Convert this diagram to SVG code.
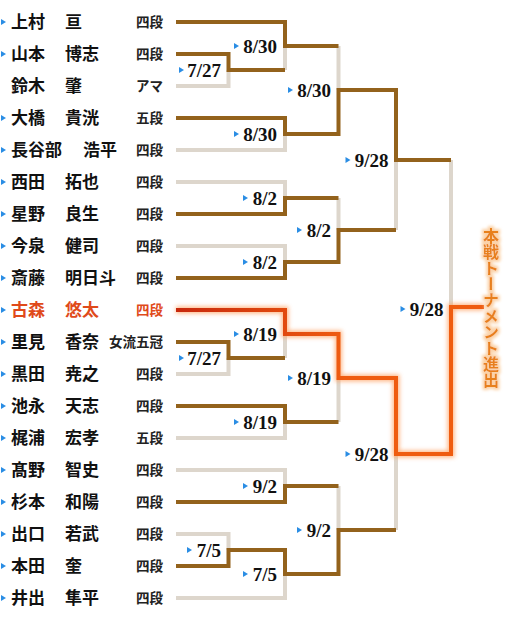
<svg xmlns="http://www.w3.org/2000/svg" width="516" height="618" viewBox="0 0 516 618">
<defs>
<style>
.g{fill:none;stroke:#ddd6cc;stroke-width:4;stroke-linejoin:miter;stroke-linecap:butt}
.b{fill:none;stroke:#93621c;stroke-width:4;stroke-linejoin:miter;stroke-linecap:butt}
.r{fill:none;stroke:url(#rg);stroke-width:4;stroke-linejoin:miter;stroke-linecap:butt}
.rglow{fill:none;stroke:#ffa060;stroke-width:7;stroke-linejoin:miter;opacity:0.75}
.nm{font-family:"Noto Sans CJK JP","Noto Sans CJK SC",sans-serif;font-size:17px;font-weight:700;fill:#111}
.rk{font-family:"Noto Sans CJK JP","Noto Sans CJK SC",sans-serif;font-size:13.5px;font-weight:700;fill:#222;text-anchor:end}
.win .nm,.win .rk{fill:#e04a1a}
.dt{font-family:"Liberation Serif",serif;font-size:19px;font-weight:700;fill:#111;text-anchor:end}
.tri{fill:#2a8de4}
.adv{font-family:"Noto Sans CJK JP","Noto Sans CJK SC",sans-serif;font-size:16px;font-weight:700;fill:#e8801c;writing-mode:vertical-rl;text-anchor:middle}
</style>
<linearGradient id="rg" gradientUnits="userSpaceOnUse" x1="176" y1="0" x2="345" y2="0">
<stop offset="0" stop-color="#c8280c"/>
<stop offset="1" stop-color="#ef5c10"/>
</linearGradient>
<filter id="blur" x="-20%" y="-20%" width="140%" height="140%">
<feGaussianBlur stdDeviation="2"/>
</filter>
<filter id="halo" x="-50%" y="-10%" width="200%" height="120%">
<feMorphology in="SourceAlpha" operator="dilate" radius="1.5" result="d"/>
<feGaussianBlur in="d" stdDeviation="1.5" result="bl"/>
<feFlood flood-color="#fbd2a8"/>
<feComposite in2="bl" operator="in" result="h"/>
<feMerge><feMergeNode in="h"/><feMergeNode in="SourceGraphic"/></feMerge>
</filter>
<path id="t" d="M0,-3 L5,0 L0,3 Z"/>
</defs>
<rect width="516" height="618" fill="#fff"/>

<g id="connectors">
<!-- gray losers -->
<path class="g" d="M176,86 H228.5 V70"/>
<path class="g" d="M176,150 H285 V134"/>
<path class="g" d="M176,182 H285 V198"/>
<path class="g" d="M176,246 H285 V262"/>
<path class="g" d="M176,374 H228.5 V358"/>
<path class="g" d="M176,438 H285 V422"/>
<path class="g" d="M176,470 H285 V486"/>
<path class="g" d="M176,534 H228.5 V550"/>
<path class="g" d="M176,598 H285 V574"/>
<path class="g" d="M285,70 V46"/>
<path class="g" d="M338.5,46 V90"/>
<path class="g" d="M338.5,198 V230"/>
<path class="g" d="M396,230 V160"/>
<path class="g" d="M285,358 V334"/>
<path class="g" d="M338.5,422 V378"/>
<path class="g" d="M338.5,486 V530"/>
<path class="g" d="M396,530 V454"/>
<path class="g" d="M451,160 V307"/>
<!-- brown winners -->
<path class="b" d="M176,54 H228.5 V70 H285"/>
<path class="b" d="M176,22 H285 V46 H338.5"/>
<path class="b" d="M176,118 H285 V134 H338.5 V90 H396 V160 H451"/>
<path class="b" d="M176,214 H285 V198 H338.5"/>
<path class="b" d="M176,278 H285 V262 H338.5 V230 H396"/>
<path class="b" d="M176,342 H228.5 V358 H285"/>
<path class="b" d="M176,406 H285 V422 H338.5"/>
<path class="b" d="M176,502 H285 V486 H338.5"/>
<path class="b" d="M176,566 H228.5 V550 H285 V574 H338.5 V530 H396"/>
<!-- red advancing path -->
<path class="rglow" filter="url(#blur)" d="M176,310 H285 V334 H338.5 V378 H396 V454 H451 V307 H484"/>
<path class="r" d="M176,310 H285 V334 H338.5 V378 H396 V454 H451 V307 H484"/>
</g>

<g id="dates">
<use href="#t" class="tri" x="179" y="70"/><text class="dt" x="221" y="77">7/27</text>
<use href="#t" class="tri" x="234" y="46"/><text class="dt" x="277" y="53">8/30</text>
<use href="#t" class="tri" x="234" y="134"/><text class="dt" x="277" y="141">8/30</text>
<use href="#t" class="tri" x="288" y="90"/><text class="dt" x="331" y="97">8/30</text>
<use href="#t" class="tri" x="243" y="198"/><text class="dt" x="277" y="205">8/2</text>
<use href="#t" class="tri" x="243" y="262"/><text class="dt" x="277" y="269">8/2</text>
<use href="#t" class="tri" x="297" y="230"/><text class="dt" x="331" y="237">8/2</text>
<use href="#t" class="tri" x="345.5" y="160"/><text class="dt" x="388.5" y="167">9/28</text>
<use href="#t" class="tri" x="179" y="358"/><text class="dt" x="221" y="365">7/27</text>
<use href="#t" class="tri" x="234" y="334"/><text class="dt" x="277" y="341">8/19</text>
<use href="#t" class="tri" x="234" y="422"/><text class="dt" x="277" y="429">8/19</text>
<use href="#t" class="tri" x="288" y="378"/><text class="dt" x="331" y="385">8/19</text>
<use href="#t" class="tri" x="243" y="486"/><text class="dt" x="277" y="493">9/2</text>
<use href="#t" class="tri" x="187" y="550"/><text class="dt" x="221" y="557">7/5</text>
<use href="#t" class="tri" x="243" y="574"/><text class="dt" x="277" y="581">7/5</text>
<use href="#t" class="tri" x="297" y="530"/><text class="dt" x="331" y="537">9/2</text>
<use href="#t" class="tri" x="345.5" y="454"/><text class="dt" x="388.5" y="461">9/28</text>
<use href="#t" class="tri" x="400.5" y="309"/><text class="dt" x="443.5" y="316">9/28</text>
</g>

<g id="p0"><use href="#t" class="tri" x="1" y="22"/><text class="nm" x="11" y="28">上村</text><text class="nm" x="65" y="28">亘</text><text class="rk" x="163" y="27">四段</text></g>
<g id="p1"><use href="#t" class="tri" x="1" y="54"/><text class="nm" x="11" y="60">山本</text><text class="nm" x="65" y="60">博志</text><text class="rk" x="163" y="59">四段</text></g>
<g id="p2"><text class="nm" x="11" y="92">鈴木</text><text class="nm" x="65" y="92">肇</text><text class="rk" x="163" y="91">アマ</text></g>
<g id="p3"><use href="#t" class="tri" x="1" y="118"/><text class="nm" x="11" y="124">大橋</text><text class="nm" x="65" y="124">貴洸</text><text class="rk" x="163" y="123">五段</text></g>
<g id="p4"><use href="#t" class="tri" x="1" y="150"/><text class="nm" x="11" y="156">長谷部</text><text class="nm" x="83" y="156">浩平</text><text class="rk" x="163" y="155">四段</text></g>
<g id="p5"><use href="#t" class="tri" x="1" y="182"/><text class="nm" x="11" y="188">西田</text><text class="nm" x="65" y="188">拓也</text><text class="rk" x="163" y="187">四段</text></g>
<g id="p6"><use href="#t" class="tri" x="1" y="214"/><text class="nm" x="11" y="220">星野</text><text class="nm" x="65" y="220">良生</text><text class="rk" x="163" y="219">四段</text></g>
<g id="p7"><use href="#t" class="tri" x="1" y="246"/><text class="nm" x="11" y="252">今泉</text><text class="nm" x="65" y="252">健司</text><text class="rk" x="163" y="251">四段</text></g>
<g id="p8"><use href="#t" class="tri" x="1" y="278"/><text class="nm" x="11" y="284">斎藤</text><text class="nm" x="65" y="284">明日斗</text><text class="rk" x="163" y="283">四段</text></g>
<g id="p9" class="win"><use href="#t" class="tri" x="1" y="310"/><text class="nm" x="11" y="316">古森</text><text class="nm" x="65" y="316">悠太</text><text class="rk" x="163" y="315">四段</text></g>
<g id="p10"><use href="#t" class="tri" x="1" y="342"/><text class="nm" x="11" y="348">里見</text><text class="nm" x="65" y="348">香奈</text><text class="rk" x="163" y="347">女流五冠</text></g>
<g id="p11"><use href="#t" class="tri" x="1" y="374"/><text class="nm" x="11" y="380">黒田</text><text class="nm" x="65" y="380">尭之</text><text class="rk" x="163" y="379">四段</text></g>
<g id="p12"><use href="#t" class="tri" x="1" y="406"/><text class="nm" x="11" y="412">池永</text><text class="nm" x="65" y="412">天志</text><text class="rk" x="163" y="411">四段</text></g>
<g id="p13"><use href="#t" class="tri" x="1" y="438"/><text class="nm" x="11" y="444">梶浦</text><text class="nm" x="65" y="444">宏孝</text><text class="rk" x="163" y="443">五段</text></g>
<g id="p14"><use href="#t" class="tri" x="1" y="470"/><text class="nm" x="11" y="476">髙野</text><text class="nm" x="65" y="476">智史</text><text class="rk" x="163" y="475">四段</text></g>
<g id="p15"><use href="#t" class="tri" x="1" y="502"/><text class="nm" x="11" y="508">杉本</text><text class="nm" x="65" y="508">和陽</text><text class="rk" x="163" y="507">四段</text></g>
<g id="p16"><use href="#t" class="tri" x="1" y="534"/><text class="nm" x="11" y="540">出口</text><text class="nm" x="65" y="540">若武</text><text class="rk" x="163" y="539">四段</text></g>
<g id="p17"><use href="#t" class="tri" x="1" y="566"/><text class="nm" x="11" y="572">本田</text><text class="nm" x="65" y="572">奎</text><text class="rk" x="163" y="571">四段</text></g>
<g id="p18"><use href="#t" class="tri" x="1" y="598"/><text class="nm" x="11" y="604">井出</text><text class="nm" x="65" y="604">隼平</text><text class="rk" x="163" y="603">四段</text></g>

<g id="advance"><text class="adv" x="491" y="307.5" filter="url(#halo)">本戦トーナメント進出</text></g>
</svg>
